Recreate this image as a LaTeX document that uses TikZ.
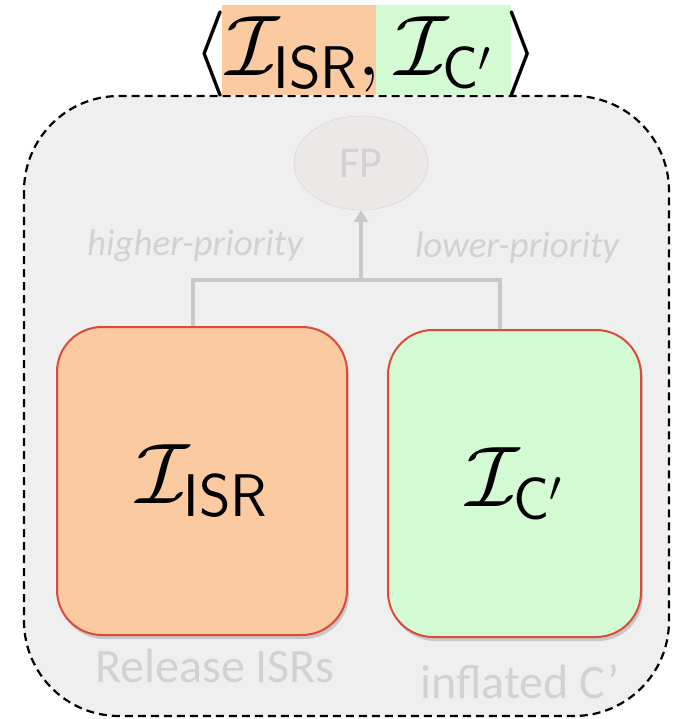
\RequirePackage{fix-cm}
\documentclass[tikz,border=0pt]{standalone}
\usepackage{fontspec}
\newfontfamily\calibri{Carlito}
\usetikzlibrary{shadows,arrows.meta,shapes.geometric}
\definecolor{panelgray}{HTML}{EFEFEF}
\definecolor{peach}{HTML}{FBCAA0}
\definecolor{mint}{HTML}{D4FAD4}
\definecolor{boxred}{HTML}{DD4A3A}
\definecolor{faint}{HTML}{D2D2D2}
\definecolor{fpfill}{HTML}{ECE8E8}
\definecolor{wire}{HTML}{C8C8C8}
\tikzset{
  panel/.style={draw=black, dashed, dash pattern=on 8pt off 5pt, line width=2.2pt, fill=panelgray, rounded corners=95pt},
  setbox/.style={draw=boxred, line width=2pt, rounded corners=45pt, drop shadow={shadow xshift=2pt, shadow yshift=-4pt, opacity=0.35}},
  faintlabel/.style={text=faint, font=\calibri\fontsize{48}{52}\selectfont},
  prio/.style={text=faint, font=\calibri\itshape\fontsize{37}{42}\selectfont},
  wirestyle/.style={draw=wire, line width=4pt},
  bigmath/.style={font=\fontsize{86}{90}\selectfont}
}
\begin{document}
\begin{tikzpicture}[x=1pt,y=-1pt]
\useasboundingbox (0,0) rectangle (673,719);
% outer dashed panel
\draw[panel] (24,96) rectangle (669,716);
% tuple heading with coloured halves
\fill[peach] (222,5) rectangle (376,95);
\fill[mint] (376,5) rectangle (511,95);
\node[bigmath, inner sep=0pt] (tuple) at (366,54) {$\langle\mathcal{I}_{\mathsf{ISR}},\mathcal{I}_{\mathsf{C'}}\,\rangle$};
% fixed-priority node
\node[ellipse, draw=faint, fill=fpfill, minimum width=134pt, minimum height=94pt, text=faint, font=\calibri\fontsize{44}{48}\selectfont] (fp) at (361,163) {FP};
% the two component boxes
\node[setbox, fill=peach, minimum width=290pt, minimum height=308pt, bigmath] (isr) at (202,481) {$\mathcal{I}_{\mathsf{ISR}}$};
\node[setbox, fill=mint, minimum width=253pt, minimum height=307pt, bigmath] (cp) at (514.5,483.5) {$\mathcal{I}_{\mathsf{C'}}$};
% merge connector
\coordinate (join) at (361,280);
\coordinate (jl) at (193,280);
\coordinate (jr) at (500,280);
\draw[wirestyle] (isr.north -| jl) -- (jl) -- (jr) -- (cp.north -| jr);
\draw[wirestyle, -{Triangle[length=12pt,width=14pt]}] (join) -- (fp.south);
% priority labels
\node[prio] (hp) at (195,246) {higher-priority};
\node[prio] (lp) at (517,248) {lower-priority};
% captions
\node[faintlabel] (rel) at (215,666) {Release ISRs};
\node[faintlabel] (inf) at (520,682) {inflated C’};
\end{tikzpicture}
\end{document}
